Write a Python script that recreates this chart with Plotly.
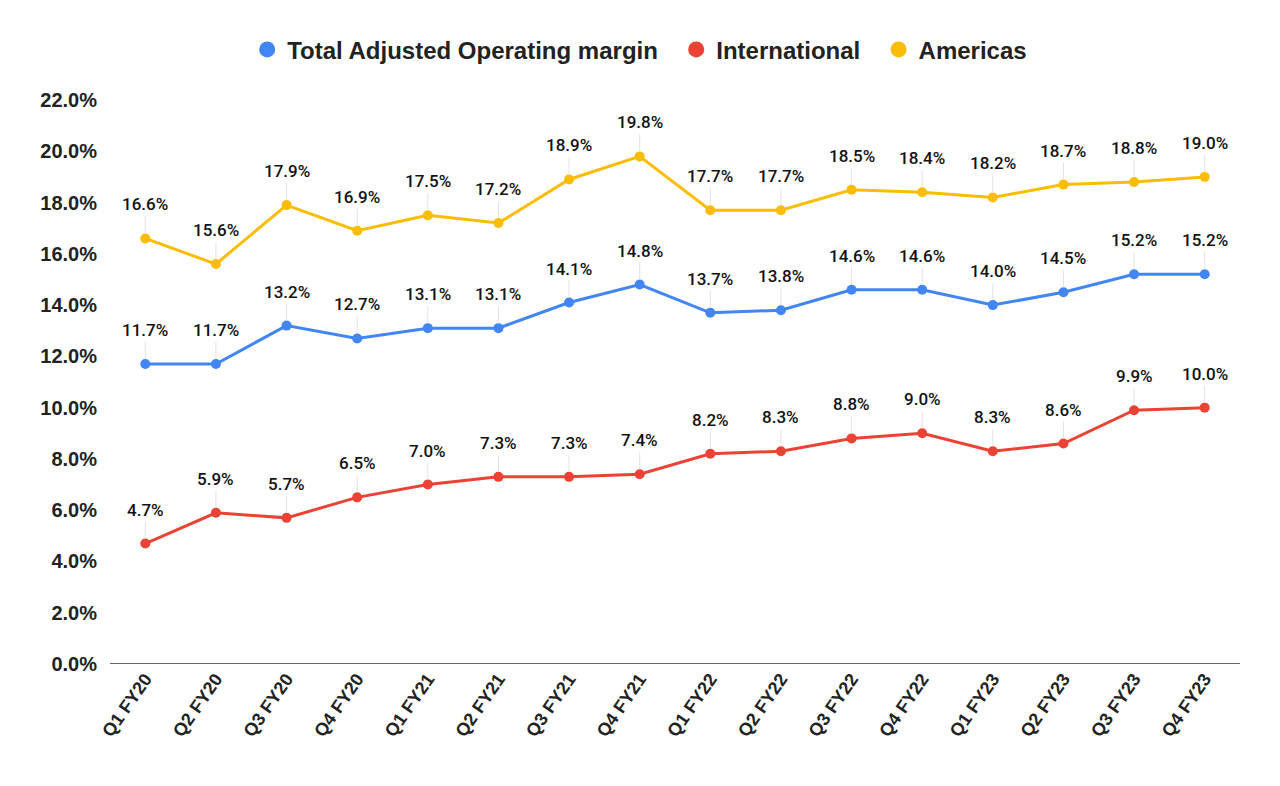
import plotly.graph_objects as go

categories = ["Q1 FY20", "Q2 FY20", "Q3 FY20", "Q4 FY20",
              "Q1 FY21", "Q2 FY21", "Q3 FY21", "Q4 FY21",
              "Q1 FY22", "Q2 FY22", "Q3 FY22", "Q4 FY22",
              "Q1 FY23", "Q2 FY23", "Q3 FY23", "Q4 FY23"]
total = [11.7, 11.7, 13.2, 12.7, 13.1, 13.1, 14.1, 14.8,
         13.7, 13.8, 14.6, 14.6, 14.0, 14.5, 15.2, 15.2]
international = [4.7, 5.9, 5.7, 6.5, 7.0, 7.3, 7.3, 7.4,
                 8.2, 8.3, 8.8, 9.0, 8.3, 8.6, 9.9, 10.0]
americas = [16.6, 15.6, 17.9, 16.9, 17.5, 17.2, 18.9, 19.8,
            17.7, 17.7, 18.5, 18.4, 18.2, 18.7, 18.8, 19.0]
y_ticks = [0, 2, 4, 6, 8, 10, 12, 14, 16, 18, 20, 22]

series = [
    ("Total Adjusted Operating margin", total, "#4285F4"),
    ("International", international, "#EA4335"),
    ("Americas", americas, "#FBBC04"),
]

fig = go.Figure()
annotations = []
for name, vals, color in series:
    fig.add_trace(go.Scatter(
        x=categories, y=vals, name=name, mode="lines+markers",
        line=dict(color=color, width=3),
        marker=dict(color=color, size=10),
        showlegend=False,
    ))
    for c, v in zip(categories, vals):
        annotations.append(dict(
            x=c, y=v, xref="x", yref="y",
            text=f"{v:.1f}%", showarrow=True,
            ax=0, ay=-22, arrowhead=0, arrowwidth=1,
            arrowcolor="#e3e3e3", standoff=5, startstandoff=0,
            font=dict(family="Roboto", size=17, color="#111111", weight=500),
            yanchor="bottom",
        ))

# legend-only entries (dots)
for name, vals, color in series:
    fig.add_trace(go.Scatter(
        x=[None], y=[None], name=name + "  ", mode="markers",
        marker=dict(color=color, size=18),
        showlegend=True,
    ))

fig.update_layout(
    width=1280, height=786,
    paper_bgcolor="white", plot_bgcolor="white",
    margin=dict(l=102, r=48, t=92, b=130),
    showlegend=True,
    legend=dict(orientation="h", x=0.4745, xanchor="center", y=1.089, yanchor="middle",
                font=dict(family="Liberation Sans", size=24, color="#222222", weight="bold"),
                itemwidth=30, traceorder="normal"),
    annotations=annotations,
    xaxis=dict(
        type="category", range=[-0.5, len(categories) - 0.5],
        tickangle=-55, showgrid=False, zeroline=False,
        showline=False, ticks="",
        tickfont=dict(family="Liberation Sans", size=18, color="#222222", weight="bold"),
    ),
    yaxis=dict(
        range=[0, 22], tickvals=y_ticks,
        ticktext=[f"{t:.1f}%" for t in y_ticks],
        showgrid=False, zeroline=False, showline=False, ticks="",
        ticklabelstandoff=12,
        tickfont=dict(family="Liberation Sans", size=20, color="#222222", weight="bold"),
    ),
)
fig.add_hline(y=0, line=dict(color="#333333", width=1.5))

fig.write_html("out.html")
